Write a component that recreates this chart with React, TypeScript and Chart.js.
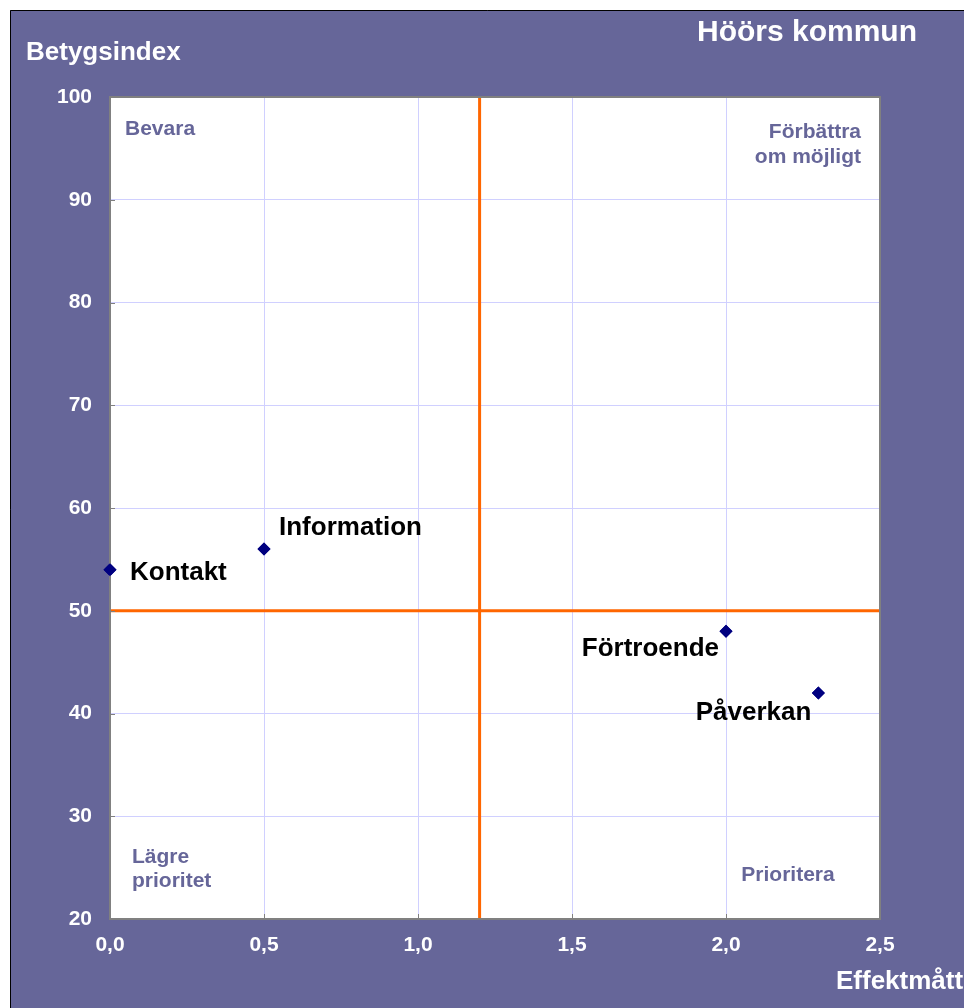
import React, { useEffect, useRef } from "react";
import { Chart, registerables } from "chart.js";

Chart.register(...registerables);

const CATEGORIES = ["Kontakt", "Information", "Förtroende", "Påverkan"];
const EFFECT_VALUES = [0.0, 0.5, 2.0, 2.3];
const INDEX_VALUES = [54, 56, 48, 42];
const X_TICKS = [0, 0.5, 1.0, 1.5, 2.0, 2.5];
const Y_TICKS = [20, 30, 40, 50, 60, 70, 80, 90, 100];
const THRESHOLD_X = 1.2;
const THRESHOLD_Y = 50;

const TITLE = "Höörs kommun";
const Y_TITLE = "Betygsindex";
const X_TITLE = "Effektmått";
const QUADRANTS = {
  topLeft: ["Bevara"],
  topRight: ["Förbättra", "om möjligt"],
  bottomLeft: ["Lägre", "prioritet"],
  bottomRight: ["Prioritera"],
};

// label placement (style, not data)
const LABEL_PLACEMENT: Record<string, { dx: number; dy: number; align: CanvasTextAlign }> = {
  Kontakt: { dx: 20, dy: 3, align: "left" },
  Information: { dx: 15, dy: -21, align: "left" },
  "Förtroende": { dx: -7, dy: 18, align: "right" },
  "Påverkan": { dx: -7, dy: 20, align: "right" },
};

const PURPLE = "#666699";
const FONT = "'Liberation Sans', Arial, sans-serif";

const framePlugin = {
  id: "frame",
  beforeDraw(chart: any) {
    const { ctx, width, height, chartArea } = chart;
    ctx.save();
    ctx.fillStyle = "#ffffff";
    ctx.fillRect(0, 0, width, height);
    ctx.fillStyle = PURPLE;
    ctx.fillRect(10, 10, width - 10, height - 10);
    ctx.strokeStyle = "#000000";
    ctx.lineWidth = 1;
    ctx.beginPath();
    ctx.moveTo(10.5, height);
    ctx.lineTo(10.5, 10.5);
    ctx.lineTo(width, 10.5);
    ctx.stroke();
    ctx.fillStyle = "#ffffff";
    ctx.fillRect(chartArea.left, chartArea.top, chartArea.right - chartArea.left, chartArea.bottom - chartArea.top);
    // titles
    ctx.fillStyle = "#ffffff";
    ctx.textBaseline = "middle";
    ctx.textAlign = "left";
    ctx.font = `bold 30px ${FONT}`;
    ctx.fillText(TITLE, 697, 33);
    ctx.font = `bold 26px ${FONT}`;
    ctx.fillText(Y_TITLE, 26, 53);
    ctx.fillText(X_TITLE, 836, 982);
    ctx.restore();
  },
  afterDatasetsDraw(chart: any) {
    const { ctx, chartArea } = chart;
    const { left, right, top, bottom } = chartArea;
    ctx.save();
    // quadrant labels
    ctx.fillStyle = PURPLE;
    ctx.font = `bold 21px ${FONT}`;
    ctx.textBaseline = "middle";
    ctx.textAlign = "left";
    ctx.fillText(QUADRANTS.topLeft[0], left + 15, top + 32);
    ctx.fillText(QUADRANTS.bottomLeft[0], left + 22, bottom - 62);
    ctx.fillText(QUADRANTS.bottomLeft[1], left + 22, bottom - 38);
    ctx.textAlign = "right";
    ctx.fillText(QUADRANTS.topRight[0], right - 19, top + 35);
    ctx.fillText(QUADRANTS.topRight[1], right - 19, top + 60);
    ctx.textAlign = "center";
    ctx.fillText(QUADRANTS.bottomRight[0], right - 92, bottom - 44);

    // border
    ctx.strokeStyle = "#808080";
    ctx.lineWidth = 2;
    ctx.strokeRect(left, top, right - left, bottom - top);
    // inward tick marks
    const xs = chart.scales.x;
    const ys = chart.scales.y;
    ctx.lineWidth = 1;
    X_TICKS.forEach((v) => {
      const px = Math.round(xs.getPixelForValue(v)) + 0.5;
      ctx.beginPath();
      ctx.moveTo(px, bottom);
      ctx.lineTo(px, bottom - 5);
      ctx.stroke();
    });
    Y_TICKS.forEach((v) => {
      const py = Math.round(ys.getPixelForValue(v)) + 0.5;
      ctx.beginPath();
      ctx.moveTo(left, py);
      ctx.lineTo(left + 5, py);
      ctx.stroke();
    });

    // point labels
    const meta = chart.getDatasetMeta(2);
    ctx.fillStyle = "#000000";
    ctx.font = `bold 26px ${FONT}`;
    meta.data.forEach((pt: any, i: number) => {
      const name = CATEGORIES[i];
      const p = LABEL_PLACEMENT[name];
      ctx.textAlign = p.align;
      ctx.fillText(name, pt.x + p.dx, pt.y + p.dy);
    });
    ctx.restore();
  },
  afterDraw(chart: any) {
    // redraw markers on top of border so edge points are not clipped
    const meta = chart.getDatasetMeta(2);
    meta.data.forEach((pt: any) => pt.draw(chart.ctx));
  },
};

export default function App() {
  const ref = useRef<HTMLCanvasElement>(null);
  useEffect(() => {
    if (!ref.current) return;
    const chart = new Chart(ref.current, {
      type: "scatter",
      data: {
        datasets: [
          {
            type: "line",
            data: [
              { x: THRESHOLD_X, y: 20 },
              { x: THRESHOLD_X, y: 100 },
            ],
            borderColor: "#ff6600",
            borderWidth: 3,
            pointRadius: 0,
          } as any,
          {
            type: "line",
            data: [
              { x: 0, y: THRESHOLD_Y },
              { x: 2.5, y: THRESHOLD_Y },
            ],
            borderColor: "#ff6600",
            borderWidth: 3,
            pointRadius: 0,
          } as any,
          {
            data: EFFECT_VALUES.map((x, i) => ({ x, y: INDEX_VALUES[i] })),
            pointStyle: "rectRot",
            pointRadius: 6.5,
            backgroundColor: "#000080",
            borderColor: "#000080",
            borderWidth: 0,
            clip: false,
          } as any,
        ],
      },
      options: {
        animation: false,
        responsive: false,
        devicePixelRatio: 1,
        layout: { padding: { left: 0, top: 97, right: 84, bottom: 0 } },
        plugins: { legend: { display: false }, tooltip: { enabled: false } },
        scales: {
          x: {
            type: "linear",
            min: 0,
            max: 2.5,
            afterFit: (s: any) => {
              s.height = 89;
            },
            afterBuildTicks: (s: any) => {
              s.ticks = X_TICKS.map((v) => ({ value: v }));
            },
            ticks: {
              color: "#ffffff",
              font: { family: FONT, size: 21, weight: "bold" },
              padding: 14,
              autoSkip: false,
              maxRotation: 0,
              callback: (v: any) => Number(v).toFixed(1).replace(".", ","),
            },
            grid: { color: "#d0d0ff", drawTicks: false, lineWidth: 1 },
            border: { display: false },
          },
          y: {
            type: "linear",
            min: 20,
            max: 100,
            afterFit: (s: any) => {
              s.width = 110;
            },
            afterBuildTicks: (s: any) => {
              s.ticks = Y_TICKS.map((v) => ({ value: v }));
            },
            ticks: {
              color: "#ffffff",
              font: { family: FONT, size: 21, weight: "bold" },
              padding: 18,
              autoSkip: false,
              callback: (v: any) => String(v),
            },
            grid: { color: "#d0d0ff", drawTicks: false, lineWidth: 1 },
            border: { display: false },
          },
        },
      },
      plugins: [framePlugin],
    });
    return () => chart.destroy();
  }, []);
  return (
    <div style={{ position: "absolute", left: 0, top: 0, width: 964, height: 1008 }}>
      <canvas ref={ref} width={964} height={1008} style={{ width: 964, height: 1008, display: "block" }} />
    </div>
  );
}
